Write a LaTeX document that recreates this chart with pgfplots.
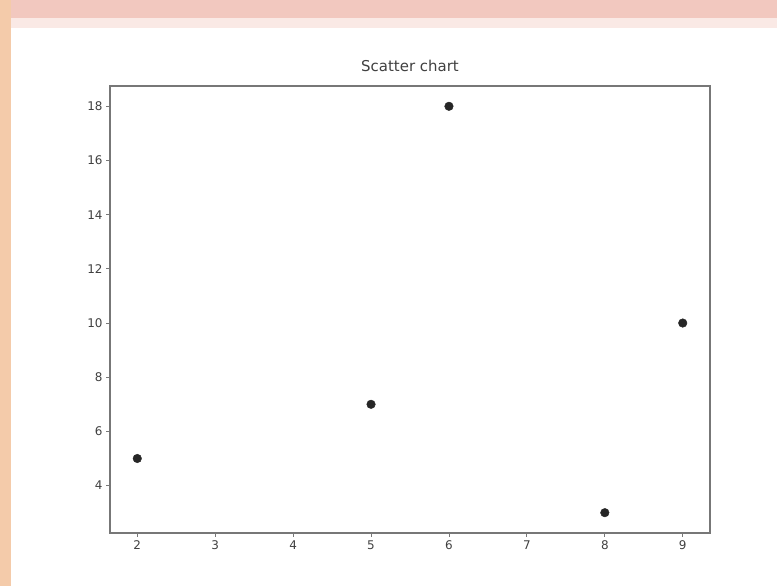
\documentclass[border=0pt]{standalone}
\usepackage{pgfplots}
\pgfplotsset{compat=1.18}
\usepackage{fontspec}
\setmainfont{DejaVu Sans}
\definecolor{peach}{HTML}{F4CBAA}
\definecolor{pinkband}{HTML}{F2C8BF}
\definecolor{spine}{HTML}{777777}
\begin{document}
\begin{tikzpicture}[x=1bp,y=1bp]
\fill[white] (-110,-53) rectangle (667,533);
\fill[pinkband] (-110,515) rectangle (667,533);
\fill[pinkband!40] (-110,505) rectangle (667,515);
\fill[peach] (-110,-53) rectangle (-99,533);
\begin{axis}[
  at={(0,0)}, anchor=south west,
  scale only axis, width=600bp, height=447bp,
  xmin=1.65, xmax=9.35, ymin=2.25, ymax=18.75,
  xtick={2,...,9}, ytick={4,6,...,18},
  tick align=outside, tick pos=left,
  major tick length=4bp,
  axis line style={spine, line width=1.2pt},
  every tick/.style={spine, line width=0.8pt},
  tick label style={font=\fontsize{12}{13}\selectfont, text=black!75},
  /pgf/number format/assume math mode=true,
  title={Scatter chart},
  title style={font=\fontsize{15}{16}\selectfont, text=black!75, at={(0.5,1)}, anchor=south, yshift=5bp},
]
\addplot[only marks, mark=*, mark size=4.3bp, black!85] coordinates {
  (2,5) (5,7) (6,18) (8,3) (9,10)
};
\end{axis}
\end{tikzpicture}
\end{document}
